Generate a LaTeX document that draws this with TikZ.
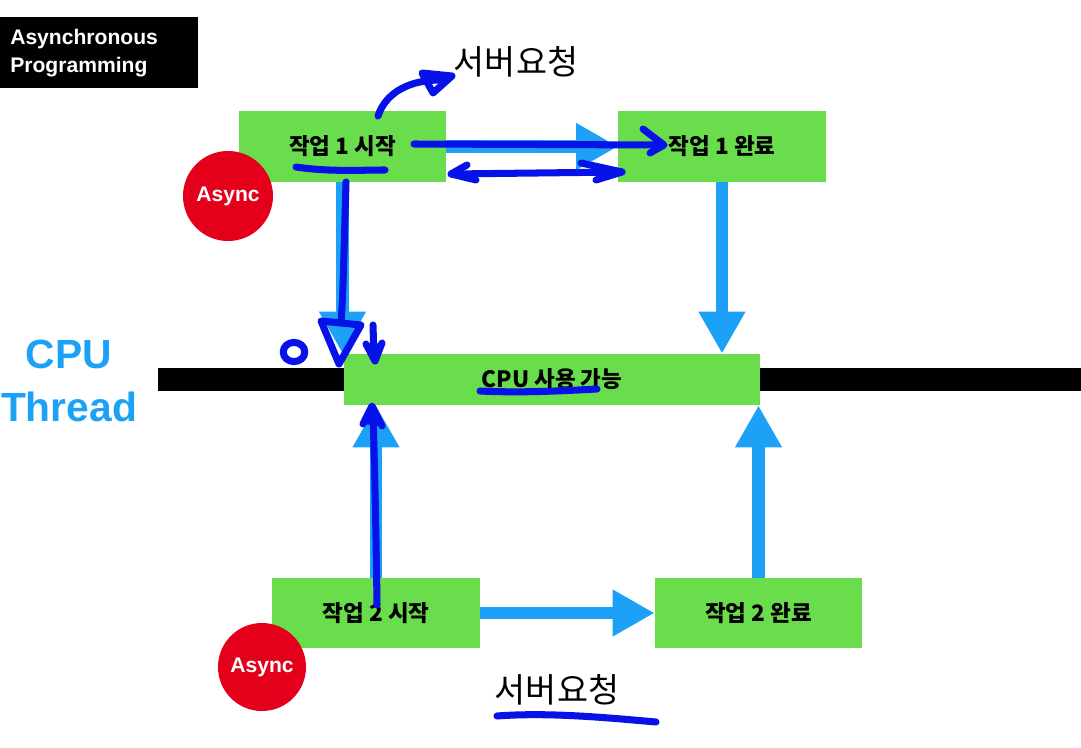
\documentclass[tikz,border=0pt]{standalone}
\usepackage{fontspec}
\usepackage{tikz}
\usetikzlibrary{arrows.meta,positioning}
\setmainfont{Liberation Sans}
\newfontfamily\kr{Noto Sans CJK KR}
\definecolor{taskgreen}{RGB}{106,221,76}
\definecolor{flowblue}{RGB}{29,161,246}
\definecolor{penblue}{RGB}{6,18,232}
\definecolor{asyncred}{RGB}{228,0,27}

\begin{document}
\begin{tikzpicture}[x=0.025cm, y=-0.025cm,
                    task/.style={fill=taskgreen, inner sep=0pt, minimum width=5.18cm, minimum height=1.77cm, font=\kr\bfseries\fontsize{16}{19}\selectfont},
                    flow/.style={flowblue, line width=9pt, -{Triangle[length=1.05cm,width=1.1cm]}},
                    async/.style={circle, fill=asyncred, inner sep=0pt, minimum size=2.25cm, text=white, font=\bfseries\fontsize{15}{17}\selectfont},
                    pen/.style={penblue, line width=5pt, line cap=round, line join=round},
                    request/.style={font=\kr\fontsize{24}{28}\selectfont},
                   ]

\useasboundingbox (0,0) rectangle (1081,748);

\node[fill=black, text=white, anchor=north west, text width=4.43cm, inner xsep=0.25cm, inner ysep=0pt, minimum height=1.78cm, align=left, font=\bfseries\fontsize{15}{19.5}\selectfont] (title) at (0,17) {Asynchronous\\Programming};
\node[flowblue, align=center, font=\bfseries\fontsize{29}{38}\selectfont] (thread) at (69,381) {CPU\\Thread};

\fill[black] (158,368) rectangle (1081,391);

\node[task] (s1) at (342.5,146.5) {작업 1 시작};
\node[task] (e1) at (722,146.5) {작업 1 완료};
\node[task, minimum width=10.4cm, minimum height=1.28cm] (cpu) at (552,379.5) {CPU 사용 가능};
\node[task, minimum height=1.75cm] (s2) at (376,613) {작업 2 시작};
\node[task, minimum height=1.75cm] (e2) at (758.5,613) {작업 2 완료};

\draw[flow] (s1.east) -- (e1.west);
\draw[flow] (s1.south) -- (s1.south |- cpu.north);
\draw[flow] (e1.south) -- (e1.south |- cpu.north);
\draw[flow] (s2.north) -- (s2.north |- cpu.south);
\draw[flow] (e2.north) -- (e2.north |- cpu.south);
\draw[flow] (s2.east) -- (e2.west);

\node[async] (a1) at (228,196) {Async};
\node[async, minimum size=2.2cm] (a2) at (262,667) {Async};

\node[request] (req1) at (516,62) {서버요청};
\node[request] (req2) at (557,690) {서버요청};

% hand drawn notes
\draw[pen] (378,116) .. controls (386,92) and (410,80) .. (440,80);
\draw[pen] (422,73) -- (452,76) -- (433,93) -- cycle;
\draw[pen] (296,167) .. controls (330,172) and (360,170) .. (385,170);
\draw[pen] (414,144) -- (663,145);
\draw[pen] (643,129) -- (664,145) -- (650,153);
\draw[pen] (452,174) -- (622,172);
\draw[pen] (467,165) -- (451,174) -- (476,180);
\draw[pen] (581,163) -- (622,172) -- (596,180);
\draw[pen] (346,182) .. controls (344,250) and (343,300) .. (341,322);
\draw[pen] (321,321) -- (361,325) -- (339,364) -- cycle;
\draw[pen] (373,325) -- (374,358);
\draw[pen, fill=penblue] (366,344) -- (375,361) -- (382,343);
\draw[pen] (294,352) circle [x radius=0.27cm, y radius=0.24cm];
\draw[pen] (480,391) .. controls (520,393) and (560,391) .. (597,389);
\draw[pen] (377,605) .. controls (376,520) and (374,450) .. (373,410);
\draw[pen, fill=penblue] (363,424) -- (372,406) -- (382,426);
\draw[pen] (497,716) .. controls (550,712) and (610,718) .. (656,722);

\end{tikzpicture}
\end{document}
